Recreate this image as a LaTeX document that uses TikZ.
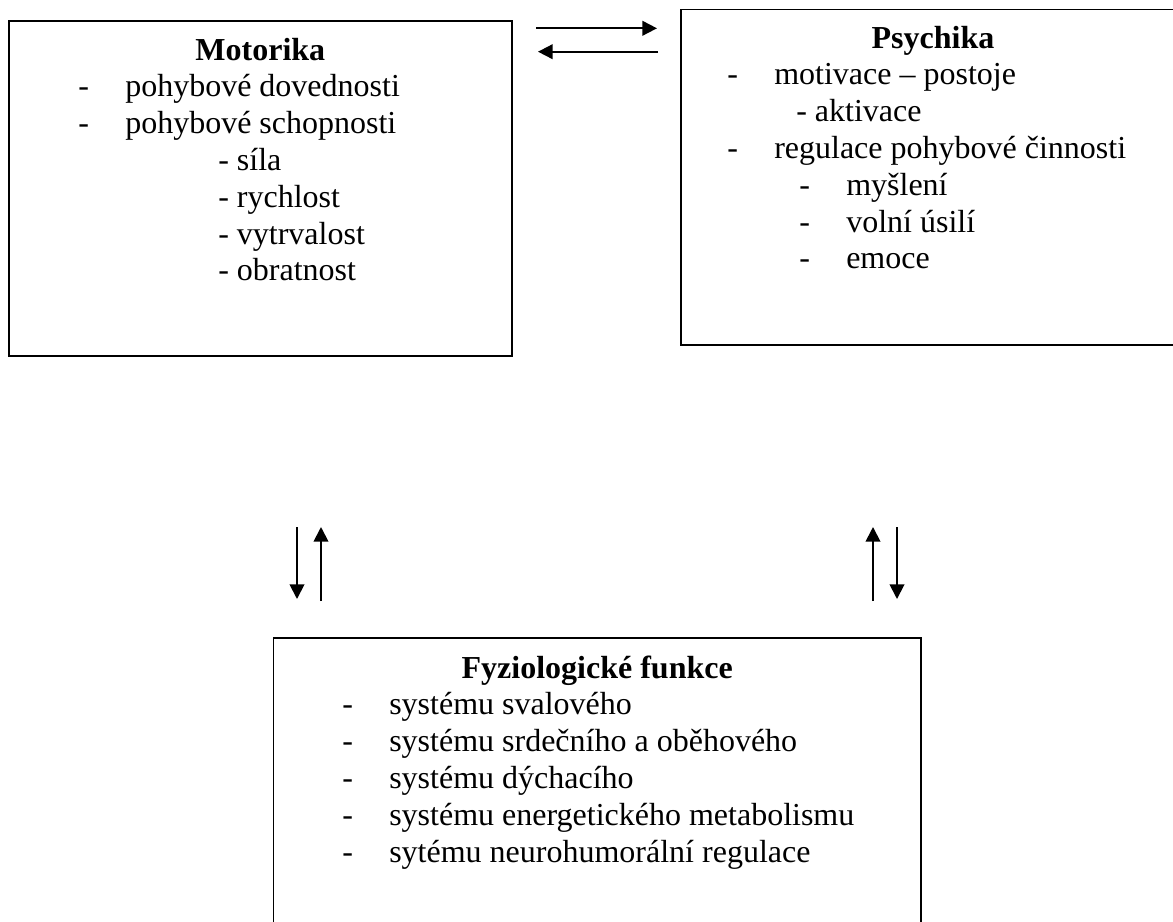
\documentclass[tikz,border=0pt]{standalone}
\usepackage{fontspec}
\setmainfont{Liberation Serif}
\usepackage{tikz}
\usetikzlibrary{positioning,arrows.meta}

\begin{document}
\begin{tikzpicture}[
    x=0.75pt, y=-0.75pt,
    font=\fontsize{24}{27.6}\selectfont,
    box/.style={rectangle, draw=black, line width=1.4pt, inner sep=0pt, minimum width=377.5pt, minimum height=251.5pt},
    title/.style={anchor=base, inner sep=0pt, font=\fontsize{24}{27.6}\selectfont\bfseries},
    item/.style={anchor=base west, inner sep=0pt}
    ]
        \useasboundingbox (0,0) rectangle (1173,921);

        %Boxes
        \node[box] (mot) at (260.3,188.4) {};
        \node[box] (psy) at (933,177.1) {};
        \node[box, minimum width=485.6pt] (fyz) at (597.2,806) {};

        %Motorika
        \node[title] (motT) at (260.3,60) {Motorika};
        \node[item] (motA) at (78,96.8)  {-};
        \node[item] (motAt) at (125,96.8) {pohybové dovednosti};
        \node[item] (motB) at (78,133.6) {-};
        \node[item] (motBt) at (125,133.6) {pohybové schopnosti};
        \node[item] (motB1) at (218,170.4) {- síla};
        \node[item] (motB2) at (218,207.2) {- rychlost};
        \node[item] (motB3) at (218,244) {- vytrvalost};
        \node[item] (motB4) at (218,280.8) {- obratnost};

        %Psychika
        \node[title] (psyT) at (933,48) {Psychika};
        \node[item] (psyA) at (727,84.8) {-};
        \node[item] (psyAt) at (774,84.8) {motivace – postoje};
        \node[item] (psyA1) at (796,121.6) {- aktivace};
        \node[item] (psyB) at (727,158.4) {-};
        \node[item] (psyBt) at (774,158.4) {regulace pohybové činnosti};
        \node[item] (psyB1) at (799,195.2) {-};
        \node[item] (psyB1t) at (846,195.2) {myšlení};
        \node[item] (psyB2) at (799,232) {-};
        \node[item] (psyB2t) at (846,232) {volní úsilí};
        \node[item] (psyB3) at (799,268.8) {-};
        \node[item] (psyB3t) at (846,268.8) {emoce};

        %Fyziologicke funkce
        \node[title] (fyzT) at (597.2,678) {Fyziologické funkce};
        \node[item] (fyzA) at (342,714.8) {-};
        \node[item] (fyzAt) at (389,714.8) {systému svalového};
        \node[item] (fyzB) at (342,751.6) {-};
        \node[item] (fyzBt) at (389,751.6) {systému srdečního a oběhového};
        \node[item] (fyzC) at (342,788.4) {-};
        \node[item] (fyzCt) at (389,788.4) {systému dýchacího};
        \node[item] (fyzD) at (342,825.2) {-};
        \node[item] (fyzDt) at (389,825.2) {systému energetického metabolismu};
        \node[item] (fyzE) at (342,862) {-};
        \node[item] (fyzEt) at (389,862) {sytému neurohumorální regulace};

        %Arrow ends
        \coordinate (mpL) at (536,28.3);
        \coordinate (mpR) at (657,28.3);
        \coordinate (pmR) at (658,51.7);
        \coordinate (pmL) at (538,51.7);
        \coordinate (mfT) at (297,527);
        \coordinate (mfB) at (297,599);
        \coordinate (fmB) at (321,601);
        \coordinate (fmT) at (321,527);
        \coordinate (fpB) at (873,601);
        \coordinate (fpT) at (873,527);
        \coordinate (pfT) at (897,527);
        \coordinate (pfB) at (897,599);

        %Lines
        \draw[->, >={Triangle[length=11pt,width=11pt]}, line width=1.4pt]
            (mpL) -- (mpR);
        \draw[->, >={Triangle[length=11pt,width=11pt]}, line width=1.4pt]
            (pmR) -- (pmL);
        \draw[->, >={Triangle[length=11pt,width=11pt]}, line width=1.4pt]
            (mfT) -- (mfB);
        \draw[->, >={Triangle[length=11pt,width=11pt]}, line width=1.4pt]
            (fmB) -- (fmT);
        \draw[->, >={Triangle[length=11pt,width=11pt]}, line width=1.4pt]
            (fpB) -- (fpT);
        \draw[->, >={Triangle[length=11pt,width=11pt]}, line width=1.4pt]
            (pfT) -- (pfB);
    \end{tikzpicture}
\end{document}
